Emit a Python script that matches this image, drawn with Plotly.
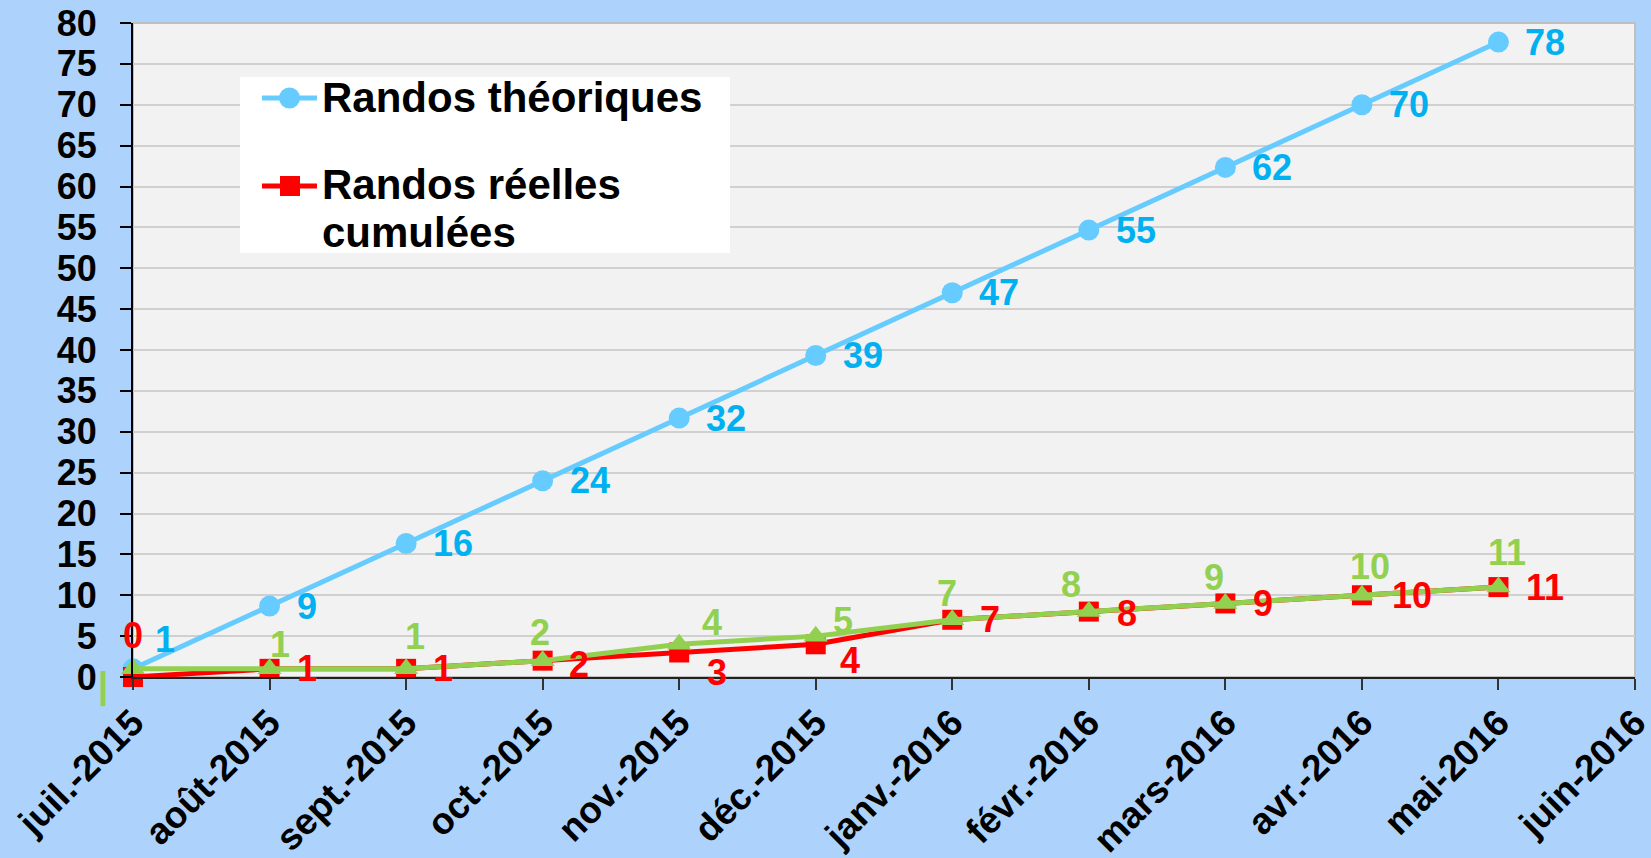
import plotly.graph_objects as go

# ---------------- data ----------------
months = ["juil.-2015", "août-2015", "sept.-2015", "oct.-2015", "nov.-2015",
          "déc.-2015", "janv.-2016", "févr.-2016", "mars-2016", "avr.-2016",
          "mai-2016", "juin-2016"]
theoriques = [1, 8.67, 16.33, 24, 31.67, 39.33, 47, 54.67, 62.33, 70, 77.67]
reelles = [0, 1, 1, 2, 3, 4, 7, 8, 9, 10, 11]
vertes = [1, 1, 1, 2, 4, 5, 7, 8, 9, 10, 11]
y_ticks = list(range(0, 85, 5))
legend_names = ["Randos théoriques", "Randos réelles", "cumulées"]

# ---------------- styles ----------------
BG = "#ADD3FC"
PLOT_BG = "#F2F2F2"
BLUE_LINE = "#66CCFF"
BLUE_TXT = "#00B0F0"
RED = "#FF0000"
GREEN = "#92D050"
FONT = "Liberation Sans, Arial, sans-serif"
W, H = 1651, 858
L, R, T, B = 133, 16, 23, 181
PW, PH = W - L - R, H - T - B

# label offsets (pixels): (anchor, dx, dy_up)
blue_off = [("center", 32, 29)] + [("left", 25, 0)] * 10
red_off = [("center", 0, 42), ("left", 25, 0), ("left", 25, 0), ("left", 24, -4),
           ("left", 26, -20), ("left", 22, -16), ("left", 26, 0), ("left", 26, -2),
           ("left", 26, 0), ("left", 28, 0), ("left", 26, 0)]
green_off = [("center", -30, -17), ("center", 10, 24), ("center", 9, 32),
             ("center", -3, 28), ("center", 33, 22), ("center", 27, 16),
             ("center", -5, 26), ("center", -18, 27), ("center", -11, 26),
             ("center", 8, 29), ("center", 9, 35)]


def px(x):
    return (x - L) / PW


def py(y):
    return (H - B - y) / PH


fig = go.Figure()
fig.add_trace(go.Scatter(x=list(range(len(theoriques))), y=theoriques, mode="lines+markers",
                         line=dict(color=BLUE_LINE, width=5),
                         marker=dict(symbol="circle", size=21, color=BLUE_LINE),
                         showlegend=False, cliponaxis=False))
fig.add_trace(go.Scatter(x=list(range(len(reelles))), y=reelles, mode="lines+markers",
                         line=dict(color=RED, width=5),
                         marker=dict(symbol="square", size=20, color=RED),
                         showlegend=False, cliponaxis=False))
fig.add_trace(go.Scatter(x=list(range(len(vertes))), y=vertes, mode="lines+markers",
                         line=dict(color=GREEN, width=5),
                         marker=dict(symbol="triangle-up", size=21, color=GREEN),
                         showlegend=False, cliponaxis=False))

ann = []


def lab(i, v, txt, color, off):
    anchor, dx, dy = off
    ann.append(dict(x=i, y=v, xref="x", yref="y", text=txt, showarrow=False,
                    xanchor=anchor, yanchor="middle", xshift=dx, yshift=dy,
                    font=dict(family=FONT, size=36, color=color, weight="bold")))


for i, v in enumerate(theoriques):
    lab(i, v, str(round(v)), BLUE_TXT, blue_off[i])
for i, v in enumerate(reelles):
    lab(i, v, str(v), RED, red_off[i])
for i, v in enumerate(vertes):
    lab(i, v, "|" if i == 0 else str(v), GREEN, green_off[i])

# manual legend
shapes = [
    dict(type="rect", xref="paper", yref="paper", x0=px(240), x1=px(730),
         y0=py(253), y1=py(77), fillcolor="white", line=dict(width=0), layer="above"),
    dict(type="rect", xref="paper", yref="paper", x0=0, x1=1, y0=0, y1=1,
         line=dict(color="#BFBFBF", width=2), layer="below"),
    dict(type="line", xref="paper", yref="paper", x0=px(262), x1=px(317),
         y0=py(98), y1=py(98), line=dict(color=BLUE_LINE, width=5), layer="above"),
    dict(type="circle", xref="paper", yref="paper", x0=px(279), x1=px(300),
         y0=py(108.5), y1=py(87.5), fillcolor=BLUE_LINE, line=dict(width=0), layer="above"),
    dict(type="line", xref="paper", yref="paper", x0=px(262), x1=px(317),
         y0=py(186), y1=py(186), line=dict(color=RED, width=5), layer="above"),
    dict(type="rect", xref="paper", yref="paper", x0=px(280), x1=px(300),
         y0=py(196), y1=py(176), fillcolor=RED, line=dict(width=0), layer="above"),
]
for name, yc in zip(legend_names, [97, 185, 233]):
    ann.append(dict(x=px(320), y=py(yc), xref="paper", yref="paper", text=name,
                    showarrow=False, xanchor="left", yanchor="middle",
                    font=dict(family=FONT, size=42, color="black", weight="bold")))

EPS = 1e-6
fig.update_layout(
    width=W, height=H, autosize=False,
    margin=dict(l=L, r=R, t=T, b=B, pad=0, autoexpand=False),
    paper_bgcolor=BG, plot_bgcolor=PLOT_BG,
    font=dict(family=FONT, size=36, color="black", weight="bold"),
    showlegend=False,
    annotations=ann, shapes=shapes,
    xaxis=dict(range=[-EPS, len(months) - 1 + EPS], tickmode="array",
               tickvals=list(range(len(months))), ticktext=months,
               tickangle=-45, showgrid=False, zeroline=False, automargin=False,
               ticklabeloverflow="allow", ticklabelstandoff=-4,
               showline=True, linecolor="#222222", linewidth=2,
               ticks="outside", ticklen=11, tickwidth=1.5, tickcolor="#333333",
               tickfont=dict(family=FONT, size=37, color="black", weight="bold")),
    yaxis=dict(range=[0, 80], tickmode="array", tickvals=y_ticks,
               ticktext=[str(t) for t in y_ticks], automargin=False,
               showgrid=True, gridcolor="#D0D0D0", gridwidth=2, zeroline=False,
               showline=True, linecolor="black", linewidth=2,
               ticks="outside", ticklen=11, tickwidth=1.5, tickcolor="black",
               ticklabelstandoff=16,
               tickfont=dict(family=FONT, size=36, color="black", weight="bold")),
)

fig.write_html("out.html", config={"displayModeBar": False},
               post_script="document.body.style.margin='0';document.body.style.overflow='hidden';")
